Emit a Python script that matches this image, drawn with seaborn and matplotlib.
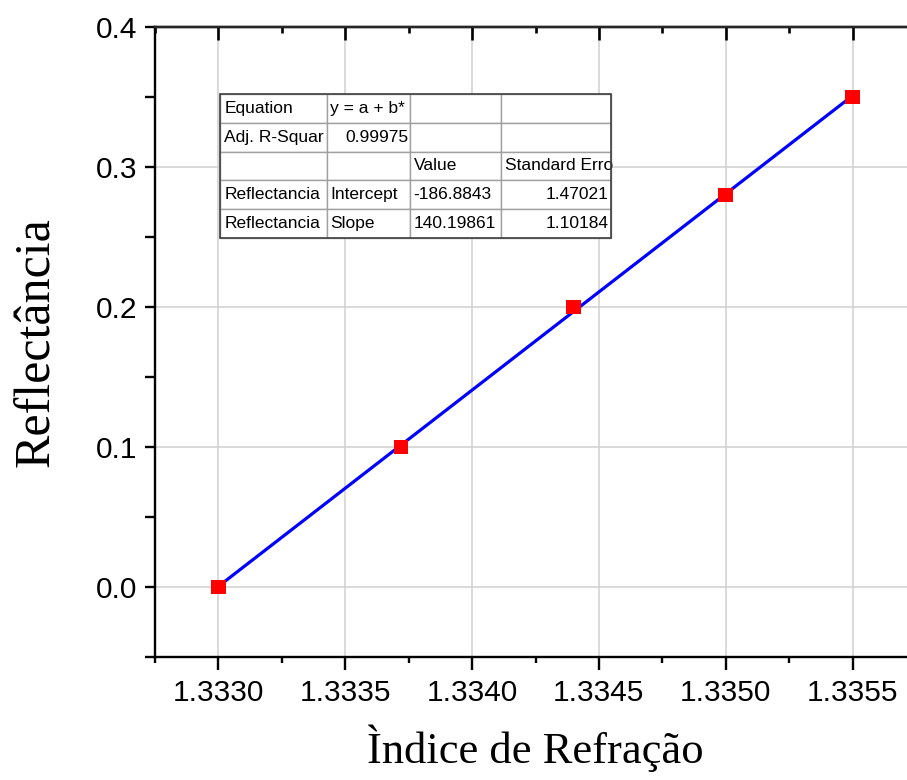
import matplotlib
matplotlib.use("Agg")
import matplotlib.pyplot as plt
from matplotlib.ticker import MultipleLocator, FormatStrFormatter
from matplotlib.patches import Rectangle
import pandas as pd
import seaborn as sns

# Measured refractive index vs reflectance
indice = [1.3330, 1.33372, 1.3344, 1.3350, 1.3355]
reflectancia = [0.0, 0.10, 0.20, 0.28, 0.35]

# Linear fit results (y = a + b*x)
intercept = -186.8843
intercept_err = 1.47021
slope = 140.19861
slope_err = 1.10184
adj_r2 = 0.99975
fit_range = [1.3330, 1.3355]

x_ticks = [1.3330, 1.3335, 1.3340, 1.3345, 1.3350, 1.3355]
y_ticks = [0.0, 0.1, 0.2, 0.3, 0.4]

sns.set_style("white")
plt.rcParams["font.family"] = ["Liberation Sans", "DejaVu Sans"]
for key in ["text.color", "axes.labelcolor", "xtick.color", "ytick.color"]:
    plt.rcParams[key] = "black"

fig = plt.figure(figsize=(9.07, 7.80), dpi=100)
ax = fig.add_axes([155 / 907, 123 / 780, 761 / 907, 630 / 780])

df_pts = pd.DataFrame({"x": indice, "y": reflectancia})
df_fit = pd.DataFrame({"x": fit_range,
                       "y": [intercept + slope * v for v in fit_range]})

sns.lineplot(data=df_fit, x="x", y="y", ax=ax, color="#0000ff",
             linewidth=2.3, zorder=3)
sns.scatterplot(data=df_pts, x="x", y="y", ax=ax, marker="s", s=110,
                color="#ff0000", edgecolor="none", zorder=4)

ax.set_xlim(1.33275, 1.33575)
ax.set_ylim(-0.05, 0.4)
ax.set_xticks(x_ticks)
ax.set_yticks(y_ticks)
ax.xaxis.set_minor_locator(MultipleLocator(0.00025))
ax.yaxis.set_minor_locator(MultipleLocator(0.05))
ax.xaxis.set_major_formatter(FormatStrFormatter("%.4f"))
ax.yaxis.set_major_formatter(FormatStrFormatter("%.1f"))

ax.grid(True, which="major", color="#d0d0d0", linewidth=1.1)
ax.set_axisbelow(True)

for side in ["left", "bottom", "top"]:
    ax.spines[side].set_visible(True)
    ax.spines[side].set_color("black")
    ax.spines[side].set_linewidth(1.7)
ax.spines["right"].set_visible(False)

ax.tick_params(axis="x", which="major", direction="out", length=9.5,
               width=1.7, labelsize=21.5, pad=6, bottom=True, top=False)
ax.tick_params(axis="x", which="minor", direction="out", length=4.5,
               width=1.7, bottom=True, top=False)
ax.tick_params(axis="y", which="major", direction="out", length=7.5,
               width=1.7, labelsize=21.5, pad=5, left=True, right=False)
ax.tick_params(axis="y", which="minor", direction="out", length=7.5,
               width=1.7, left=True, right=False)

# top axis: inward ticks, no labels
top = ax.secondary_xaxis("top")
top.set_zorder(10)
top.set_xticks(x_ticks)
top.xaxis.set_minor_locator(MultipleLocator(0.00025))
top.tick_params(axis="x", which="major", direction="in", length=9.5,
                width=1.9, top=True, labeltop=False, color="black")
top.tick_params(axis="x", which="minor", direction="in", length=4.5,
                width=1.9, top=True, color="black")
top.spines["top"].set_linewidth(1.7)

ax.set_xlabel("Ìndice de Refração", fontfamily="Liberation Serif",
              fontsize=32, labelpad=13)
ax.set_ylabel("Reflectância", fontfamily="Liberation Serif",
              fontsize=36, labelpad=26)

# Fit results table
cells = [
    ["Equation", "y = a + b*", "", ""],
    ["Adj. R-Squar", f"{adj_r2:.5f}", "", ""],
    ["", "", "Value", "Standard Erro"],
    ["Reflectancia", "Intercept", f"{intercept:.4f}", f"{intercept_err:.5f}"],
    ["Reflectancia", "Slope", f"{slope:.5f}", f"{slope_err:.5f}"],
]
col_w = [107, 83, 91, 110]
tot_w = sum(col_w)
tx0, tw = (220 - 155) / 761, tot_w / 761
ty1 = (657 - 94) / 630
th = (238 - 94) / 630
tbl = ax.table(cellText=cells, colWidths=[c / tot_w * tw for c in col_w],
               bbox=[tx0, ty1 - th, tw, th], zorder=5)
tbl.auto_set_font_size(False)
right_cells = {(1, 1), (3, 3), (4, 3)}
for (r, c), cell in tbl.get_celld().items():
    cell.set_edgecolor("#a0a0a0")
    cell.set_linewidth(1.0)
    cell.set_facecolor("white")
    cell.get_text().set_fontsize(12.5)
    cell.get_text().set_color("black")
    if (r, c) in right_cells:
        cell.set_text_props(ha="right")
        cell.PAD = 0.02
    else:
        cell.set_text_props(ha="left")
        cell.PAD = 0.04
ax.add_patch(Rectangle((tx0, ty1 - th), tw, th, transform=ax.transAxes,
                       fill=False, edgecolor="#404040", linewidth=1.2,
                       zorder=6, clip_on=False))

fig.savefig("out.png", dpi=100)
